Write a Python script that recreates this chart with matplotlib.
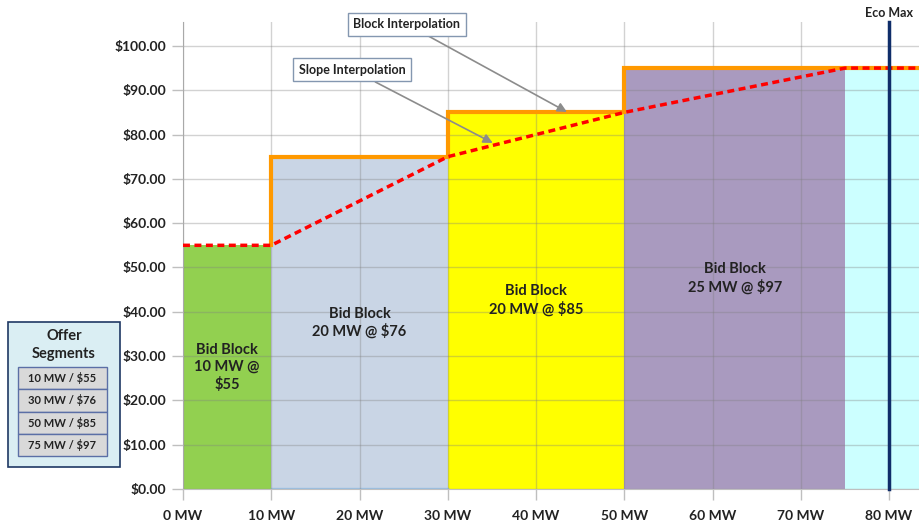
import matplotlib.pyplot as plt
from matplotlib.patches import Rectangle

plt.rcParams['font.family'] = ['Lato', 'DejaVu Sans']

# bid blocks: start MW, width MW, price height, colour
block_start = [0, 10, 30, 50, 75]
block_width = [10, 20, 20, 25, 8.5]
block_height = [55, 75, 85, 95, 95]
block_colors = ["#92D050", "#C9D5E5", "#FFFF00", "#A99ABF", "#CCFFFF"]
block_labels = ["Bid Block\n10 MW @\n$55", "Bid Block\n20 MW @ $76",
                "Bid Block\n20 MW @ $85", "Bid Block\n25 MW @ $97"]
label_pos = [(5, 27.5), (20, 37.5), (40, 42.6), (62.5, 47.5)]

# block interpolation (step) and slope interpolation
step_x = [10, 10, 30, 30, 50, 50, 83.5]
step_y = [55, 75, 75, 85, 85, 95, 95]
slope_x = [0, 10, 30, 50, 75, 83.5]
slope_y = [55, 55, 75, 85, 95, 95]

eco_max = 80
segments = ["10 MW / $55", "30 MW / $76", "50 MW / $85", "75 MW / $97"]

fig = plt.figure(figsize=(9.2, 5.23), dpi=100)
ax = fig.add_axes([183 / 920, 1 - 489 / 523, 1 - 183 / 920, (489 - 22) / 523])
ax.set_xlim(0, 83.5)
ax.set_ylim(0, 105.4)

for s, w, h, c in zip(block_start, block_width, block_height, block_colors):
    ax.bar(s, h, width=w, align="edge", color=c, zorder=1)
ax.plot([10, 30], [0.15, 0.15], color="#9DC3E6", lw=1, zorder=2)

for (lx, ly), txt in zip(label_pos, block_labels):
    ax.text(lx, ly, txt, ha="center", va="center", fontsize=10.5,
            fontweight="bold", color="#222222", linespacing=1.25, zorder=5)

ax.plot(step_x, step_y, color="#FF9900", lw=3, zorder=3, solid_joinstyle="miter")
ax.plot(slope_x, slope_y, color="#FF0000", lw=2.5, ls=(0, (2, 1.3)), zorder=4)

ax.plot([eco_max, eco_max], [0, 105.4], color="#0F2D69", lw=2.5, zorder=4,
        clip_on=False)
ax.text(eco_max, 107.4, "Eco Max", ha="center", va="center", fontsize=9,
        fontweight="bold", color="#222222")

box = dict(boxstyle="square,pad=0.45", fc="white", ec="#8497B0", lw=1)
arrow = dict(arrowstyle="-|>", color="#8C8C8C", lw=1.2, mutation_scale=14,
             shrinkA=0, shrinkB=0)
ax.annotate("Block Interpolation", xy=(43.5, 85.1), xytext=(19.3, 104.9),
            fontsize=9, fontweight="bold", color="#222222",
            ha="left", va="center", bbox=box, arrowprops=arrow, zorder=6,
            annotation_clip=False)
ax.annotate("Slope Interpolation", xy=(35.1, 78.1), xytext=(13.1, 94.6),
            fontsize=9, fontweight="bold", color="#222222",
            ha="left", va="center", bbox=box, arrowprops=arrow, zorder=6)

ax.set_xticks(range(0, 81, 10))
ax.set_xticklabels([f"{v} MW" for v in range(0, 81, 10)])
ax.set_yticks(range(0, 101, 10))
ax.set_yticklabels([f"${v:.2f}" for v in range(0, 101, 10)])
ax.tick_params(axis="both", colors="#BFBFBF", length=8, width=1,
               labelcolor="#222222", labelsize=10)
ax.tick_params(axis="x", pad=7)
ax.tick_params(axis="y", pad=4)
for lab in ax.get_xticklabels() + ax.get_yticklabels():
    lab.set_fontweight("bold")

ax.grid(True, color="#808080", alpha=0.35, lw=1)
ax.set_axisbelow(False)
for sp in ["top", "right"]:
    ax.spines[sp].set_visible(False)
ax.spines["left"].set_color("#BFBFBF")
ax.spines["bottom"].set_color("#BFBFBF")

# offer segments box
fig.patches.append(Rectangle((8 / 920, 1 - 467 / 523), 112 / 920, 145 / 523,
                             transform=fig.transFigure, fc="#DAEEF3",
                             ec="#1F3864", lw=1.2))
fig.text(64 / 920, 1 - 345 / 523, "Offer\nSegments", ha="center", va="center",
         fontsize=10.5, fontweight="bold", color="#222222", linespacing=1.3)
row_h = 22.25
for i, seg in enumerate(segments):
    top = 367 + i * row_h
    fig.patches.append(Rectangle((18 / 920, 1 - (top + row_h) / 523), 89 / 920,
                                 row_h / 523, transform=fig.transFigure,
                                 fc="#D9D9D9", ec="#5B6FA6", lw=1))
    fig.text(62.5 / 920, 1 - (top + row_h / 2) / 523, seg, ha="center",
             va="center", fontsize=8, fontweight="bold", color="#222222")

fig.savefig("out.png", dpi=100)
